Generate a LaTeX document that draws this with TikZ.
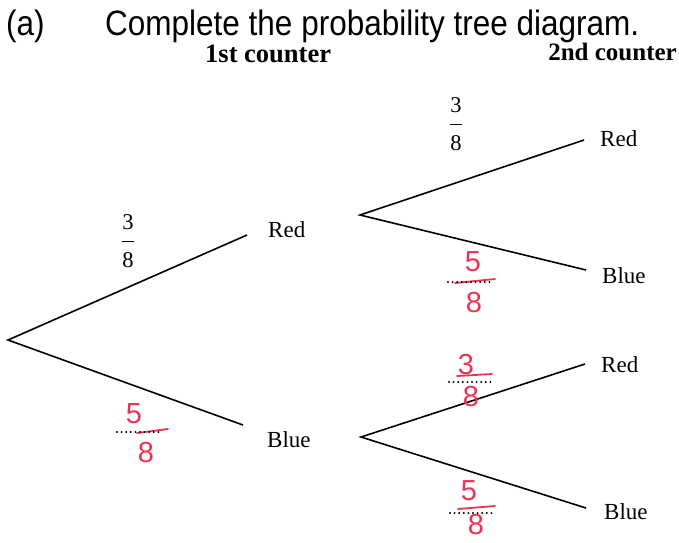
\documentclass[tikz,border=0pt]{standalone}
\usepackage{fontspec}
\setmainfont{Liberation Serif}
\newfontfamily\hdr{Liberation Sans}
\newfontfamily\hand{Liberation Sans}
\definecolor{pen}{RGB}{236,52,82}
\newcommand\prfrac[2]{\begin{tabular}{@{}c@{}}#1\\[-8.4pt]\rule[6.5pt]{12pt}{1.3pt}\\[-8.4pt]#2\end{tabular}}
\begin{document}
\begin{tikzpicture}[x=1pt,y=-1pt,
  br/.style={line width=1.6pt},
  lbl/.style={font=\fontsize{23}{27}\selectfont, inner sep=0pt, anchor=base west},
  pfrac/.style={font=\fontsize{22.5}{27}\selectfont, inner sep=0pt},
  hw/.style={text=pen, font=\hand\fontsize{29}{32}\selectfont, inner sep=0pt},
  dotline/.style={line width=2.2pt, line cap=round, dash pattern=on 0pt off 4.6pt},
  penline/.style={draw=pen, line width=1.8pt, line cap=round},
  head/.style={font=\hdr\fontsize{31.5}{36}\selectfont, inner sep=0pt}]
\useasboundingbox (0,0) rectangle (679,542);
% header
\node[head, anchor=base west] (qa) at (6,35) {\scalebox{1}[1.12]{(a)}};
\node[head, anchor=base west] (title) at (105,35) {\scalebox{1}[1.12]{Complete the probability tree diagram.}};
\node[font=\bfseries\fontsize{26.5}{30}\selectfont, inner sep=0pt, anchor=base west] (c1) at (205,62) {1st counter};
\node[font=\bfseries\fontsize{25}{30}\selectfont, inner sep=0pt, anchor=base east] (c2) at (677,60) {2nd counter};
% branch points
\coordinate (root) at (8,340);
\coordinate (r1) at (247,235);
\coordinate (b1) at (243,425);
\coordinate (sR) at (360,215);
\coordinate (sB) at (361,437);
\coordinate (rr) at (584,140);
\coordinate (rb) at (586,270);
\coordinate (br) at (585,364);
\coordinate (bb) at (586,508);
\draw[br] (r1) -- (root) -- (b1);
\draw[br] (rr) -- (sR) -- (rb);
\draw[br] (br) -- (sB) -- (bb);
% labels
\node[lbl] (lr1) at (268,237) {Red};
\node[lbl] (lb1) at (267,447) {Blue};
\node[lbl] (lrr) at (600,146) {Red};
\node[lbl] (lrb) at (602,283) {Blue};
\node[lbl] (lbr) at (601,372) {Red};
\node[lbl] (lbb) at (604,519) {Blue};
% printed fractions
\node[pfrac] (f1) at (128,243) {\prfrac{3}{8}};
\node[pfrac] (f2) at (456,126) {\prfrac{3}{8}};
% handwritten fractions
\draw[penline] (137,433) -- (168,429);
\draw[dotline] (117,432) -- (162,432);
\node[hw] (h1a) at (134,414) {5};
\node[hw] (h1b) at (146,453) {8};
\draw[penline] (455,283) -- (495,279);
\draw[dotline] (448,282) -- (492,282);
\node[hw] (h2a) at (473,262) {5};
\node[hw] (h2b) at (474,303) {8};
\draw[penline] (457,376) -- (492,374);
\draw[dotline] (449,382) -- (492,382);
\node[hw] (h3a) at (466,365) {3};
\node[hw] (h3b) at (471,397) {8};
\draw[penline] (458,509) -- (495,506);
\draw[dotline] (450,513) -- (494,513);
\node[hw] (h4a) at (469,491) {5};
\node[hw] (h4b) at (476,525) {8};
\end{tikzpicture}
\end{document}
